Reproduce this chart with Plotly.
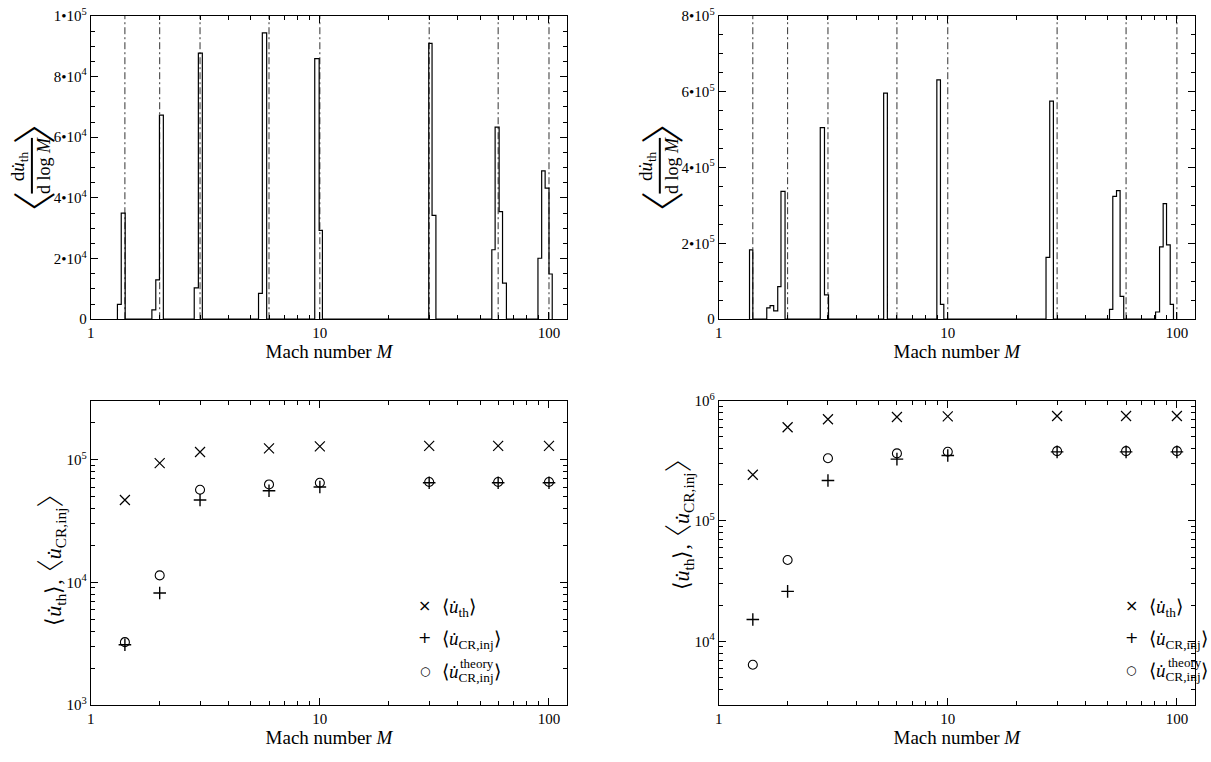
import math
import plotly.graph_objects as go

W, H = 1211, 762
FONT = "Liberation Serif, Times New Roman, serif"

# ---------------- data ----------------
mach_numbers = [1.41, 2, 3, 6, 10, 30, 60, 100]

# top-left histogram (bin edges in Mach number, heights)
hist_left_edges = [
    [1.308, 1.359, 1.414],
    [1.849, 1.923, 1.995, 2.075],
    [2.83, 2.95, 3.07],
    [5.40, 5.61, 5.86],
    [9.50, 9.93, 10.26],
    [29.87, 30.88, 32.1],
    [56.3, 58.2, 60.6, 62.7, 65.2],
    [89.5, 92.9, 96.2, 100.0, 103.3],
]
hist_left_heights = [
    [4.9e3, 3.5e4],
    [3.1e3, 1.3e4, 6.73e4],
    [1.03e4, 8.77e4],
    [8.5e3, 9.44e4],
    [8.59e4, 2.93e4],
    [9.09e4, 3.42e4],
    [2.29e4, 6.33e4, 3.55e4, 1.19e4],
    [2.01e4, 4.89e4, 4.32e4, 1.49e4],
]

# top-right histogram
hist_right_edges = [
    [1.364, 1.41],
    [1.622, 1.677, 1.739, 1.811, 1.871, 1.949],
    [2.777, 2.897, 3.017],
    [5.25, 5.45],
    [8.96, 9.29, 9.61],
    [26.84, 27.86, 28.9],
    [50.8, 52.5, 54.5, 56.5, 58.6],
    [80.7, 84.0, 87.1, 90.1, 93.5, 96.6],
]
hist_right_heights = [
    [1.83e5],
    [3.0e4, 3.6e4, 2.2e4, 8.6e4, 3.37e5],
    [5.05e5, 6.4e4],
    [5.96e5],
    [6.31e5, 3.9e4],
    [1.63e5, 5.75e5],
    [2.6e4, 3.24e5, 3.39e5, 6.0e4],
    [1.9e4, 1.91e5, 3.05e5, 1.96e5, 3.9e4],
]

# bottom-left scatter
left_uth = [4.7e4, 9.4e4, 1.16e5, 1.24e5, 1.29e5, 1.30e5, 1.30e5, 1.30e5]
left_ucr = [3.1e3, 8.2e3, 4.7e4, 5.6e4, 6.0e4, 6.5e4, 6.5e4, 6.5e4]
left_theory = [3.25e3, 1.14e4, 5.7e4, 6.3e4, 6.5e4, 6.6e4, 6.6e4, 6.6e4]

# bottom-right scatter
right_uth = [2.42e5, 6.0e5, 7.0e5, 7.3e5, 7.4e5, 7.45e5, 7.45e5, 7.45e5]
right_ucr = [1.52e4, 2.6e4, 2.17e5, 3.26e5, 3.5e5, 3.75e5, 3.75e5, 3.75e5]
right_theory = [6.4e3, 4.74e4, 3.32e5, 3.64e5, 3.76e5, 3.8e5, 3.8e5, 3.8e5]

# ticks
x_tickvals = [1, 10, 100]
x_ticktext = ["1", "10", "100"]
x_minor = [2, 3, 4, 5, 6, 7, 8, 9, 20, 30, 40, 50, 60, 70, 80, 90]
tl_yticks = [0, 2e4, 4e4, 6e4, 8e4, 1e5]
tl_ytext = ["0", "2\u202210<sup>4</sup>", "4\u202210<sup>4</sup>", "6\u202210<sup>4</sup>",
            "8\u202210<sup>4</sup>", "1\u202210<sup>5</sup>"]
tr_yticks = [0, 2e5, 4e5, 6e5, 8e5]
tr_ytext = ["0", "2\u202210<sup>5</sup>", "4\u202210<sup>5</sup>", "6\u202210<sup>5</sup>",
            "8\u202210<sup>5</sup>"]
log_yticks = [1e3, 1e4, 1e5, 1e6]
log_ytext = ["10<sup>3</sup>", "10<sup>4</sup>", "10<sup>5</sup>", "10<sup>6</sup>"]
log_yminor = [d * 10 ** e for e in (3, 4, 5) for d in range(2, 10)]


def px(x):
    return x / W


def py(y):
    return 1 - y / H


def step_xy(edges_list, heights_list):
    xs, ys = [], []
    for edges, hts in zip(edges_list, heights_list):
        xs += [edges[0]] + list(edges)
        ys += [0] + list(hts) + [0]
    return xs, ys


fig = go.Figure()

# histograms
for xa, ya, e, h in [("x", "y", hist_left_edges, hist_left_heights),
                     ("x2", "y2", hist_right_edges, hist_right_heights)]:
    xs, ys = step_xy(e, h)
    fig.add_trace(go.Scatter(x=xs, y=ys, mode="lines", xaxis=xa, yaxis=ya,
                             line=dict(color="black", width=1.2, shape="hv"),
                             showlegend=False, hoverinfo="skip"))

# scatter panels
for xa, ya, uth, ucr, uthe in [("x3", "y3", left_uth, left_ucr, left_theory),
                               ("x4", "y4", right_uth, right_ucr, right_theory)]:
    fig.add_trace(go.Scatter(x=mach_numbers, y=uth, mode="markers", xaxis=xa, yaxis=ya,
                             marker=dict(symbol="x-thin", size=10, color="black",
                                         line=dict(width=1.2, color="black")),
                             showlegend=False))
    fig.add_trace(go.Scatter(x=mach_numbers, y=ucr, mode="markers", xaxis=xa, yaxis=ya,
                             marker=dict(symbol="cross-thin", size=9, color="black",
                                         line=dict(width=1.4, color="black")),
                             showlegend=False))
    fig.add_trace(go.Scatter(x=mach_numbers, y=uthe, mode="markers", xaxis=xa, yaxis=ya,
                             marker=dict(symbol="circle-open", size=9, color="black",
                                         line=dict(width=1.1, color="black")),
                             showlegend=False))

# dash-dot vertical lines
shapes = []
for xr_, yr_ in [("x", "y"), ("x2", "y2")]:
    for m in mach_numbers:
        shapes.append(dict(type="line", xref=xr_, yref=yr_ + " domain", x0=m, x1=m, y0=0, y1=1,
                           line=dict(color="#333333", width=1, dash="7px,3px,2px,3px"), layer="below"))


def common(**kw):
    d = dict(showline=True, linecolor="black", linewidth=1, mirror="allticks",
             ticks="inside", ticklen=7, tickwidth=1, tickcolor="black",
             showgrid=False, zeroline=False,
             tickfont=dict(size=15, family=FONT, color="black"))
    d.update(kw)
    return d


xr = [0, math.log10(120)]
xdoms = [[px(87), px(565)], [px(717), px(1195)]]
ytop = [py(316.7), py(6)]
ybot = [py(711.7), py(400)]

xtitle = dict(text="Mach number <i>M</i>", font=dict(size=19, family=FONT, color="black"), standoff=2)
minor_x = dict(tickmode="array", tickvals=x_minor, ticks="inside", ticklen=4,
               tickcolor="black", showgrid=False)


def xaxis(dom, anchor):
    return common(type="log", range=xr, domain=dom, anchor=anchor, tickmode="array",
                  tickvals=x_tickvals, ticktext=x_ticktext, minor=minor_x, title=xtitle)


layout = dict(
    width=W, height=H, margin=dict(l=0, r=0, t=0, b=0),
    paper_bgcolor="white", plot_bgcolor="white",
    font=dict(family=FONT, color="black"),
    xaxis=xaxis(xdoms[0], "y"),
    xaxis2=xaxis(xdoms[1], "y2"),
    xaxis3=xaxis(xdoms[0], "y3"),
    xaxis4=xaxis(xdoms[1], "y4"),
    yaxis=common(range=[0, 1e5], domain=ytop, anchor="x", tickmode="array",
                 tickvals=tl_yticks, ticktext=tl_ytext,
                 minor=dict(dtick=5e3, ticks="inside", ticklen=4, tickcolor="black", showgrid=False)),
    yaxis2=common(range=[0, 8e5], domain=ytop, anchor="x2", tickmode="array",
                  tickvals=tr_yticks, ticktext=tr_ytext,
                  minor=dict(dtick=5e4, ticks="inside", ticklen=4, tickcolor="black", showgrid=False)),
    yaxis3=common(type="log", range=[3, 5.484], domain=ybot, anchor="x3", tickmode="array",
                  tickvals=log_yticks, ticktext=log_ytext,
                  minor=dict(tickmode="array", tickvals=log_yminor, ticks="inside", ticklen=4,
                             tickcolor="black", showgrid=False)),
    yaxis4=common(type="log", range=[math.log10(2970), 6], domain=ybot, anchor="x4", tickmode="array",
                  tickvals=log_yticks, ticktext=log_ytext,
                  minor=dict(tickmode="array", tickvals=log_yminor, ticks="inside", ticklen=4,
                             tickcolor="black", showgrid=False)),
)
fig.update_layout(**layout)

ann = []


def A(text, x, y, size, angle=0, xanchor="center", yanchor="middle", family=FONT, weight=None):
    f = dict(size=size, family=family, color="black")
    if weight is not None:
        f["weight"] = weight
    ann.append(dict(text=text, x=px(x), y=py(y), xref="paper", yref="paper", showarrow=False,
                    textangle=angle, xanchor=xanchor, yanchor=yanchor, font=f))


BR = "Noto Sans CJK SC"
# top-panel y titles (fraction with big angle brackets)
for dx in (0, 630):
    A("d<i>u\u0307</i><sub>th</sub>", 15 + dx, 160, 19, angle=-90)
    A("d log <i>M</i>", 40 + dx, 159, 18, angle=-90)
    A("\u3008", 28 + dx, 208, 44, angle=-90, family=BR, weight=300)
    A("\u3009", 28 + dx, 115, 44, angle=-90, family=BR, weight=300)
    shapes.append(dict(type="line", xref="paper", yref="paper", x0=px(28 + dx), x1=px(28 + dx),
                       y0=py(131), y1=py(188), line=dict(color="black", width=2)))

# bottom-panel y titles
big = "<span style='font-family:Noto Sans CJK SC;font-weight:300;font-size:28px'>"
ytxt = ("\u27e8<i>u\u0307</i><sub>th</sub>\u27e9<span style='letter-spacing:-8px'>,</span>"
        + big + "\u3008</span>"
        "<i>u\u0307</i><sub>CR,inj</sub>" + big + "\u3009</span>")
A(ytxt, 45, 556, 22, angle=-90)
A(ytxt, 675, 520, 22, angle=-90)

# manual legends
for mx, tx, rows in [(422, 437, (610, 643, 677)), (1131, 1147, (610, 643, 676))]:
    A("\u00d7", mx, rows[0], 16, family="DejaVu Sans")
    A("+", mx, rows[1], 16, family="DejaVu Sans")
    A("\u25cb", mx, rows[2], 12, family="DejaVu Sans")
    A("\u27e8<i>u\u0307</i><sub>th</sub>\u27e9", tx, rows[0] + 2, 19, xanchor="left")
    A("\u27e8<i>u\u0307</i><sub>CR,inj</sub>\u27e9", tx, rows[1] + 2, 19, xanchor="left")
    A("\u27e8<i>u\u0307</i><sub>CR,inj</sub>\u27e9", tx, rows[2] + 2, 19, xanchor="left")
    A("theory", tx + 19, rows[2] - 8, 13, xanchor="left")

fig.update_layout(annotations=ann, shapes=shapes)
fig.write_html("out.html")
